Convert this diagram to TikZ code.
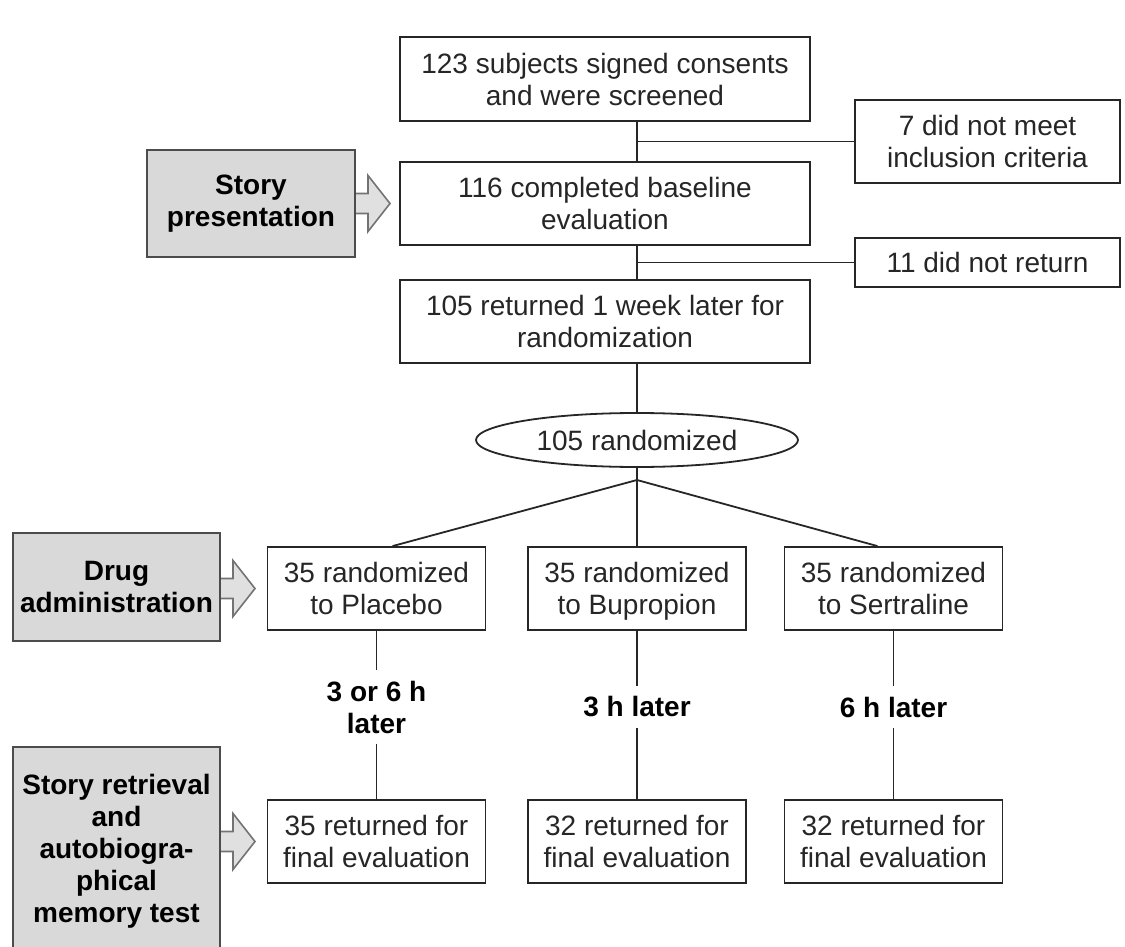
\documentclass[tikz,border=0pt]{standalone}
\usepackage{fontspec}
\setmainfont{Liberation Sans}
\usetikzlibrary{shapes.geometric,calc}

\newcommand{\boxfont}{\fontsize{14}{16}\selectfont}
\newcommand{\nodepth}[1]{\raisebox{0pt}[\height][0pt]{#1}}

\tikzset{
    flowbox/.style={draw=black!85, line width=0.9pt, fill=white, align=center,
        inner sep=0pt, text=black!85, font=\boxfont},
    stagebox/.style={draw=black!70, line width=1pt, fill=black!15, align=center,
        inner sep=0pt, font=\boxfont\bfseries},
    stagearrow/.style={draw=black!55, line width=0.8pt, fill=black!12},
    link/.style={draw=black!85, line width=0.9pt},
    delay/.style={align=center, inner sep=5pt, font=\boxfont\bfseries}
}

\begin{document}
\begin{tikzpicture}[x=0.5pt, y=-0.5pt]
    \useasboundingbox (0,0) rectangle (1125,947);
    \clip (0,0) rectangle (1125,947);

    % Screening column
    \node[flowbox, minimum width=205pt, minimum height=42pt] (screen) at (605,79)
        {123 subjects signed consents\\and were screened};
    \node[flowbox, minimum width=205pt, minimum height=41.5pt] (base) at (605,203.5)
        {116 completed baseline\\evaluation};
    \node[flowbox, minimum width=205pt, minimum height=41.5pt] (week) at (605,321.5)
        {105 returned 1 week later for\\randomization};

    % Drop-outs
    \node[flowbox, minimum width=132.5pt, minimum height=41.5pt] (excl) at (987.5,141.5)
        {7 did not meet\\inclusion criteria};
    \node[flowbox, minimum width=132.5pt, minimum height=24.5pt] (noret) at (987.5,262.5)
        {11 did not return};

    % Randomization
    \node[flowbox, ellipse, minimum width=161pt, minimum height=27pt] (rand) at (637,440)
        {105 randomized};
    \coordinate (split) at (637,480);

    % Arms
    \node[flowbox, minimum width=109pt, minimum height=41.5pt] (plac) at (376.5,588.5)
        {35 randomized\\to Placebo};
    \node[flowbox, minimum width=109pt, minimum height=41.5pt] (bupr) at (637,588.5)
        {35 randomized\\\nodepth{to Bupropion}};
    \node[flowbox, minimum width=109pt, minimum height=41.5pt] (sert) at (893.5,588.5)
        {35 randomized\\to Sertraline};

    \node[delay] (dplac) at (376.5,707) {3 or 6 h\\later};
    \node[delay] (dbupr) at (637,707) {3 h later};
    \node[delay] (dsert) at (893.5,707) {6 h later};

    \node[flowbox, minimum width=109pt, minimum height=41.5pt] (fplac) at (376.5,841.5)
        {35 returned for\\final evaluation};
    \node[flowbox, minimum width=109pt, minimum height=41.5pt] (fbupr) at (637,841.5)
        {32 returned for\\final evaluation};
    \node[flowbox, minimum width=109pt, minimum height=41.5pt] (fsert) at (893.5,841.5)
        {32 returned for\\final evaluation};

    % Study stages
    \node[stagebox, minimum width=104pt, minimum height=53.5pt] (story) at (251,203.5)
        {Story\\presentation};
    \node[stagebox, minimum width=103.5pt, minimum height=54pt] (drug) at (116.5,587)
        {Drug\\administration};
    \node[stagebox, minimum width=103.5pt, minimum height=104pt] (retr) at (116.5,851)
        {Story retrieval\\and\\autobiogra-\\phical\\memory test};

    % Connectors
    \draw[link] (screen.south -| split) -- (base.north -| split);
    \draw[link] (split |- excl.west) -- (excl.west);
    \draw[link] (base.south -| split) -- (week.north -| split);
    \draw[link] (split |- noret.west) -- (noret.west);
    \draw[link] (week.south -| split) -- (rand.north);
    \draw[link] (rand.south) -- (split);
    \draw[link] (split) -- ([xshift=8pt]plac.north);
    \draw[link] (split) -- (bupr.north);
    \draw[link] (split) -- ([xshift=-8pt]sert.north);

    \foreach \a in {plac,bupr,sert}{
        \draw[link] (\a.south) -- (\a.south |- d\a.north);
        \draw[link] (f\a.north |- d\a.south) -- (f\a.north);
    }

    % Stage arrows
    \foreach \s/\t in {story/base, drug/plac, retr/fplac}{
        \draw[stagearrow] ($(\s.east |- \t.west)+(0,-10)$) -- ++(12,0) -- ++(0,-18)
            -- ++(22,28) -- ++(-22,28) -- ++(0,-18) -- ++(-12,0);
    }
\end{tikzpicture}
\end{document}
